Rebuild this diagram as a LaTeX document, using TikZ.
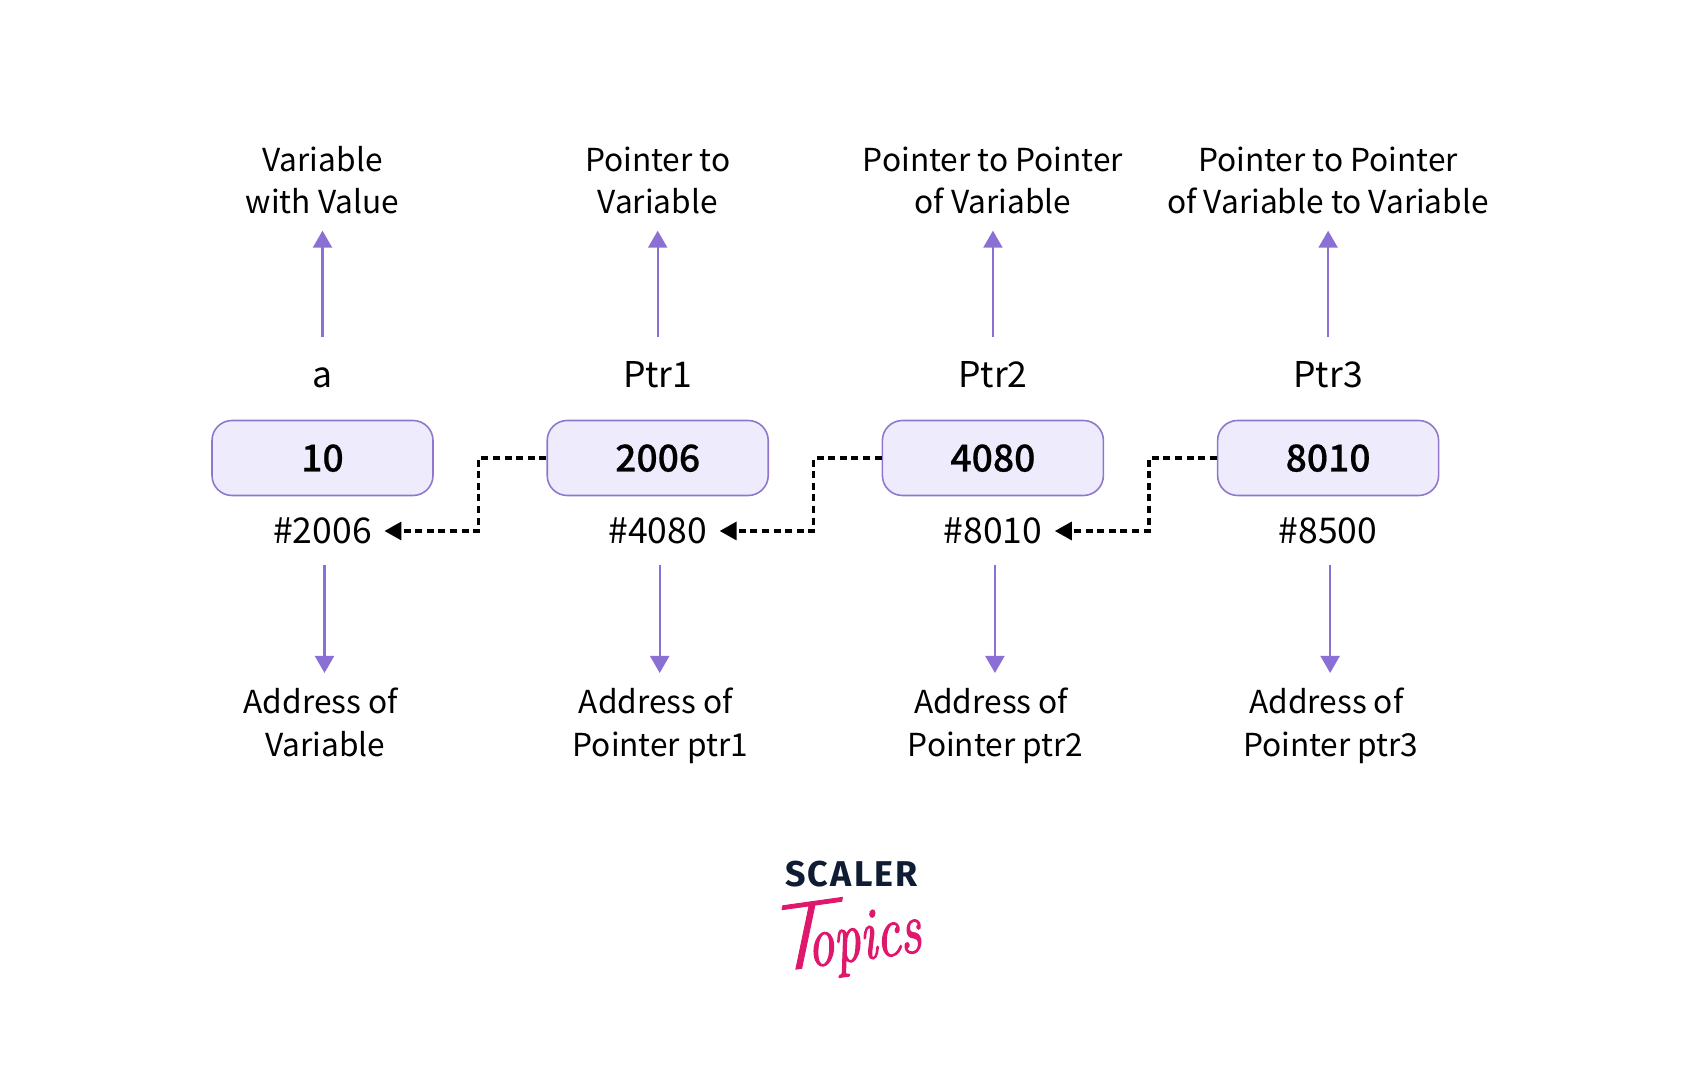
\documentclass[tikz,border=0pt]{standalone}
\usepackage{fontspec}
\usepackage{xcolor}
\usetikzlibrary{arrows.meta}
\setmainfont[BoldFont={Noto Sans CJK SC Medium}, BoldFeatures={FakeBold=.5}]{Noto Sans CJK SC}
\newfontfamily\scalerfont[LetterSpace=6]{Fira Sans}
\newfontfamily\topicsfont[ItalicFeatures={FakeBold=1.6,FakeStretch=.72}]{Latin Modern Roman}
\newfontfamily\topicsinitial[FakeStretch=1.3, FakeSlant=.2, FakeBold=1]{Lato Light}
\definecolor{cellfill}{HTML}{EEEBFC}
\definecolor{cellline}{HTML}{8F78CC}
\definecolor{arrowpurple}{HTML}{8A70D4}
\definecolor{scalernavy}{HTML}{0F1C33}
\definecolor{topicspink}{HTML}{E0186C}
\tikzset{
    cellbox/.style={draw=cellline, fill=cellfill, line width=.45pt, rounded corners=.2cm, minimum width=2.21cm, minimum height=.75cm, inner sep=0pt, font=\fontsize{10.6}{12}\selectfont\bfseries, text height=.27cm, text depth=0pt},
    namelabel/.style={anchor=base, inner sep=0pt, text height=.50cm, font=\fontsize{10.1}{12}\selectfont},
    addrlabel/.style={inner ysep=0pt, inner xsep=.12cm, minimum height=.66cm, text height=.26cm, text depth=0pt, font=\fontsize{10.1}{12}\selectfont},
    toplabel/.style={anchor=base, align=center, inner sep=0pt, text depth=.165cm, font=\fontsize{9}{12}\selectfont},
    botlabel/.style={anchor=base, align=center, inner sep=0pt, text height=.83cm, font=\fontsize{9}{12.4}\selectfont},
    purplearrow/.style={draw=arrowpurple, line width=.6pt, -{Triangle[length=.17cm, width=.19cm]}},
    dashlink/.style={draw=black, line width=.95pt, dash pattern=on 2pt off 1.3pt, -{Triangle[length=.17cm, width=.18cm]}}
}
\begin{document}
\begin{tikzpicture}
    \useasboundingbox (0, 0) rectangle (17.01, 10.74);

    \node[cellbox] (cellA) at (3.225, 6.16) {10};
    \node[cellbox] (cellB) at (6.577, 6.16) {2006};
    \node[cellbox] (cellC) at (9.929, 6.16) {4080};
    \node[cellbox] (cellD) at (13.281, 6.16) {8010};

    \node[namelabel] (nameA) at (3.225, 6.86) {a};
    \node[namelabel] (nameB) at (6.577, 6.86) {Ptr1};
    \node[namelabel] (nameC) at (9.929, 6.86) {Ptr2};
    \node[namelabel] (nameD) at (13.281, 6.86) {Ptr3};

    \node[addrlabel] (addrA) at (3.225, 5.43) {\#2006};
    \node[addrlabel] (addrB) at (6.577, 5.43) {\#4080};
    \node[addrlabel] (addrC) at (9.929, 5.43) {\#8010};
    \node[addrlabel] (addrD) at (13.281, 5.43) {\#8500};

    \node[toplabel] (topA) at (3.225, 8.605) {Variable\\with Value};
    \node[toplabel] (topB) at (6.577, 8.605) {Pointer to\\Variable};
    \node[toplabel] (topC) at (9.929, 8.605) {Pointer to Pointer\\of Variable};
    \node[toplabel] (topD) at (13.281, 8.605) {Pointer to Pointer\\of Variable to Variable};

    \node[botlabel] (botA) at (3.225, 3.173) {Address of\hspace*{1pt}\\\hspace*{1.5pt}Variable};
    \node[botlabel] (botB) at (6.577, 3.173) {Address of\hspace*{1pt}\\\hspace*{1.5pt}Pointer ptr1};
    \node[botlabel] (botC) at (9.929, 3.173) {Address of\hspace*{1pt}\\\hspace*{1.5pt}Pointer ptr2};
    \node[botlabel] (botD) at (13.281, 3.173) {Address of\hspace*{1pt}\\\hspace*{1.5pt}Pointer ptr3};

    \draw[purplearrow] (nameA.north) -- (topA.south);
    \draw[purplearrow] (nameB.north) -- (topB.south);
    \draw[purplearrow] (nameC.north) -- (topC.south);
    \draw[purplearrow] (nameD.north) -- (topD.south);

    \draw[purplearrow] ([xshift=.02cm]addrA.south) -- ([xshift=.02cm]botA.north);
    \draw[purplearrow] ([xshift=.02cm]addrB.south) -- ([xshift=.02cm]botB.north);
    \draw[purplearrow] ([xshift=.02cm]addrC.south) -- ([xshift=.02cm]botC.north);
    \draw[purplearrow] ([xshift=.02cm]addrD.south) -- ([xshift=.02cm]botD.north);

    \draw[dashlink] (cellB.west) -- ++(-.68, 0) |- (addrA.east);
    \draw[dashlink] (cellC.west) -- ++(-.68, 0) |- (addrB.east);
    \draw[dashlink] (cellD.west) -- ++(-.68, 0) |- (addrC.east);

    \node[text=scalernavy, inner sep=0pt, font=\scalerfont\fontsize{10.2}{12}\selectfont\bfseries] (logoTop) at (8.515, 2.0) {SCALER};
    \node[text=topicspink, inner sep=0pt, rotate=8, font=\topicsfont\itshape\fontsize{21}{22}\selectfont] (logoBottom) at (8.44, 1.37) {{\topicsinitial\fontsize{26}{26}\selectfont T}\kern-7pt opics};
\end{tikzpicture}
\end{document}
